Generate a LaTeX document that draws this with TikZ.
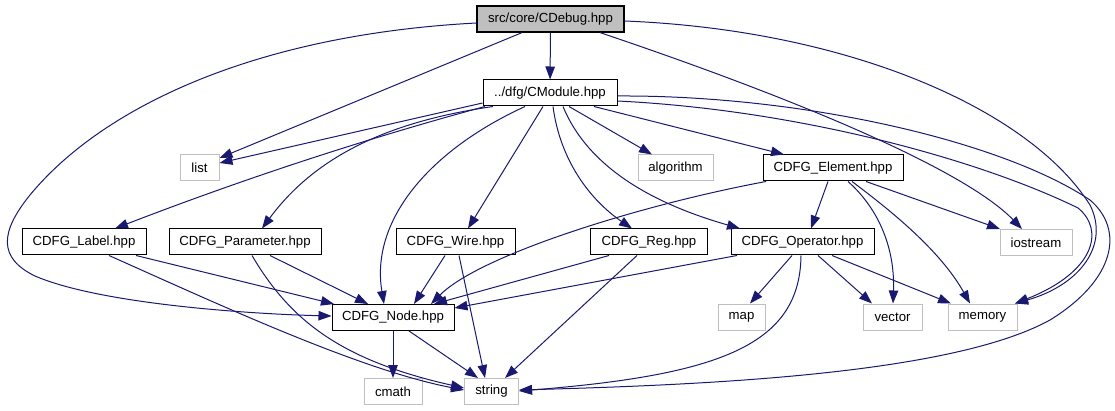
\documentclass[tikz,border=0pt]{standalone}
\usepackage{fontspec}
\setmainfont{Liberation Sans}
\usetikzlibrary{arrows.meta}
\definecolor{navy}{HTML}{191970}
\definecolor{lgray}{HTML}{BFBFBF}
\tikzset{
  file/.style={draw=black, fill=white, line width=1pt, minimum height=26pt, inner sep=0pt,
    font=\fontsize{13.2}{15}\selectfont},
  ext/.style={file, draw=lgray},
  edge/.style={draw=navy, line width=1pt, -{Triangle[length=13pt,width=9.5pt]}}
}
\begin{document}
\begin{tikzpicture}[x=1pt,y=-1pt]
\useasboundingbox (0,0) rectangle (1115,411);
% nodes
\node[file, fill=lgray, line width=1.2pt, minimum width=147pt] (deb) at (550.5,19) {src/core/CDebug.hpp};
\node[file, minimum width=134pt] (mod) at (550,93) {../dfg/CModule.hpp};
\node[ext, minimum width=39pt] (lst) at (199.5,168) {list};
\node[ext, minimum width=75pt] (alg) at (675.5,168) {algorithm};
\node[file, minimum width=140pt] (elem) at (833,168) {CDFG\_Element.hpp};
\node[file, minimum width=124pt] (lab) at (84,242) {CDFG\_Label.hpp};
\node[file, minimum width=152pt] (par) at (245,242) {CDFG\_Parameter.hpp};
\node[file, minimum width=119pt] (wire) at (455.5,242) {CDFG\_Wire.hpp};
\node[file, minimum width=117pt] (reg) at (649,242) {CDFG\_Reg.hpp};
\node[file, minimum width=143pt] (op) at (802.5,242) {CDFG\_Operator.hpp};
\node[ext, minimum width=72pt] (ios) at (1036,242.5) {iostream};
\node[file, minimum width=122pt] (nd) at (393,317.5) {CDFG\_Node.hpp};
\node[ext, minimum width=47pt] (map) at (741.5,317) {map};
\node[ext, minimum width=59pt] (vec) at (892.5,317) {vector};
\node[ext, minimum width=69pt] (mem) at (982.5,317) {memory};
\node[ext, minimum width=58pt] (cmath) at (393,391.5) {cmath};
\node[ext, minimum width=54pt] (str) at (491.5,391.5) {string};
% edges from CDebug
\draw[edge] (deb) -- (mod);
\draw[edge] (deb.south -| 522,0) -- (lst.east |- 0,158);
\draw[edge] (deb.west |- 0,23) .. controls (250,35) and (100,110) .. (30,195)
  .. controls (0,232) and (-2,258) .. (35,276)
  .. controls (100,304) and (250,314) .. (nd.west |- 0,316);
\draw[edge] (deb.south -| 600,0) .. controls (800,100) and (965,170) .. (ios.north -| 1022,0);
\draw[edge] (deb.east |- 0,21) .. controls (850,30) and (1030,110) .. (1090,205)
  .. controls (1110,245) and (1080,285) .. (mem.north -| 1015,0);
% edges from CModule
\draw[edge] (mod.west |- 0,103) -- (lst.east |- 0,163);
\draw[edge] (mod.south -| 485,0) .. controls (361,140) and (238,181) .. (lab.north -| 115,0);
\draw[edge] (mod.south -| 493,0) .. controls (400,120) and (320,150) .. (par.north -| 262,0);
\draw[edge] (mod.south -| 525,0) .. controls (430,150) and (370,220) .. (nd.north -| 384,0);
\draw[edge] (mod.south -| 543,0) -- (wire.north -| 468,0);
\draw[edge] (mod.south -| 553,0) .. controls (560,160) and (590,200) .. (reg.north -| 632,0);
\draw[edge] (mod.south -| 563,0) .. controls (585,160) and (640,200) .. (op.north -| 740,0);
\draw[edge] (mod.south -| 569,0) -- (alg.north -| 652,0);
\draw[edge] (mod.south -| 594,0) -- (elem.north -| 784,0);
\draw[edge] (mod.east |- 0,96) .. controls (800,95) and (1000,140) .. (1090,200)
  .. controls (1125,230) and (1115,280) .. (1050,320)
  .. controls (950,375) and (700,385) .. (str.east |- 0,390);
\draw[edge] (mod.east |- 0,101) .. controls (800,110) and (980,160) .. (1078,208)
  .. controls (1105,230) and (1095,272) .. (mem.north -| 1015,0);
% edges from CDFG_Element
\draw[edge] (elem.south -| 766,0) .. controls (640,205) and (480,255) .. (nd.north -| 431,0);
\draw[edge] (elem.south -| 828,0) -- (op.north -| 811,0);
\draw[edge] (elem.south -| 848,0) .. controls (880,210) and (895,250) .. (vec.north -| 893,0);
\draw[edge] (elem.south -| 852,0) .. controls (890,210) and (940,250) .. (mem.north -| 970,0);
\draw[edge] (elem.south -| 866,0) -- (ios.north -| 1000,0);
% edges from CDFG_Operator
\draw[edge] (op.south -| 737,0) -- (nd.east |- 0,308);
\draw[edge] (op.south -| 792,0) -- (map.north -| 750,0);
\draw[edge] (op.south -| 801,0) .. controls (800,345) and (720,375) .. (str.east |- 0,391);
\draw[edge] (op.south -| 818,0) -- (vec.north -| 872,0);
\draw[edge] (op.south -| 832,0) -- (mem.north -| 951,0);
% edges from CDFG_Reg
\draw[edge] (reg.south -| 609,0) -- (nd.north -| 434,0);
\draw[edge] (reg.south -| 637,0) -- (str.north -| 505,0);
% edges from CDFG_Wire
\draw[edge] (wire.south -| 445,0) -- (nd.north -| 414,0);
\draw[edge] (wire.south -| 459,0) -- (str.north -| 485,0);
% edges from CDFG_Parameter
\draw[edge] (par.south -| 270,0) -- (nd.north -| 368,0);
\draw[edge] (par.south -| 252,0) .. controls (290,320) and (340,360) .. (str.west |- 0,388);
% edges from CDFG_Label
\draw[edge] (lab.south -| 136,0) -- (nd.north -| 334,0);
\draw[edge] (lab.south -| 109,0) .. controls (220,305) and (360,370) .. (str.west |- 0,390);
% edges from CDFG_Node
\draw[edge] (nd.south -| 393,0) -- (cmath.north -| 393,0);
\draw[edge] (nd.south -| 409,0) -- (str.north -| 478,0);
\end{tikzpicture}
\end{document}
